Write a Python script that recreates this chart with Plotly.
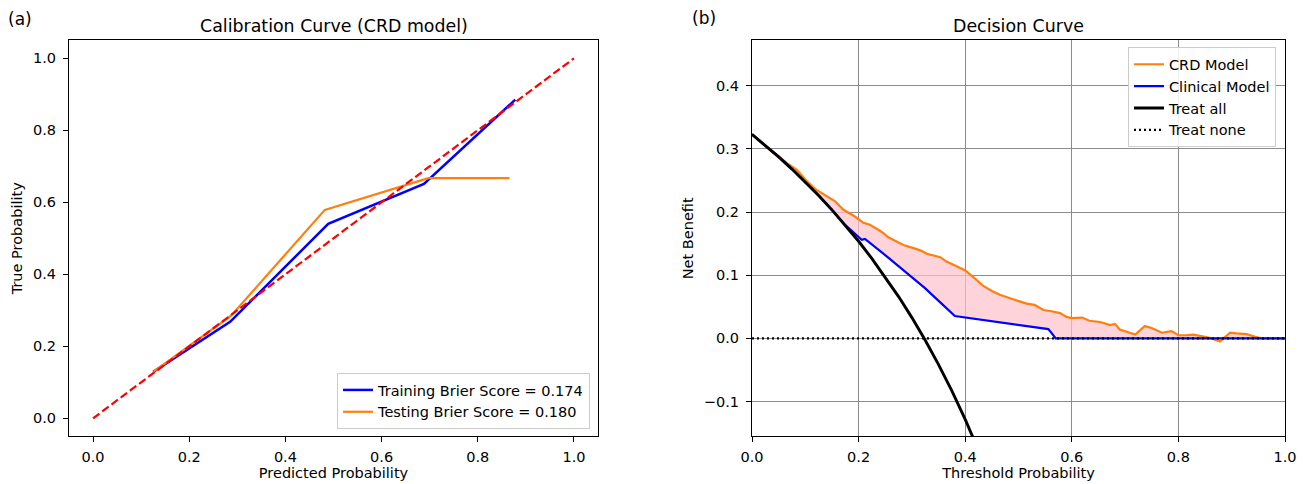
import numpy as np
import plotly.graph_objects as go

# ---------------- data: calibration curve (a) ----------------
train_pred = [0.125, 0.285, 0.489, 0.688, 0.878]
train_true = [0.129, 0.268, 0.540, 0.651, 0.885]
test_pred = [0.125, 0.287, 0.482, 0.697, 0.866]
test_true = [0.129, 0.285, 0.579, 0.667, 0.667]
diag = [0.0, 1.0]
train_label = "Training Brier Score = 0.174"
test_label = "Testing Brier Score = 0.180"

# ---------------- data: decision curve (b) ----------------
crd_t = [0.0, 0.02, 0.04, 0.065, 0.084, 0.103, 0.121, 0.140, 0.156, 0.171, 0.193, 0.209,
         0.221, 0.237, 0.2465, 0.2556, 0.265, 0.284, 0.303, 0.318, 0.328, 0.353, 0.365,
         0.384, 0.3994, 0.418, 0.434, 0.450, 0.465, 0.484, 0.50, 0.515, 0.530, 0.547,
         0.562, 0.578, 0.590, 0.600, 0.619, 0.633, 0.653, 0.672, 0.681, 0.690, 0.719,
         0.737, 0.751, 0.769, 0.787, 0.800, 0.814, 0.828, 0.850, 0.862, 0.878, 0.897,
         0.909, 0.928, 0.944, 0.956, 1.0]
crd_nb = [0.323, 0.309, 0.295, 0.278, 0.267, 0.249, 0.235, 0.225, 0.217, 0.204, 0.193, 0.183,
          0.180, 0.172, 0.1667, 0.160, 0.156, 0.148, 0.143, 0.1386, 0.134, 0.1286, 0.1217,
          0.1148, 0.108, 0.095, 0.083, 0.075, 0.069, 0.0635, 0.059, 0.055, 0.053, 0.045,
          0.043, 0.040, 0.034, 0.032, 0.033, 0.028, 0.026, 0.021, 0.023, 0.014, 0.006,
          0.0195, 0.016, 0.009, 0.0116, 0.005, 0.005, 0.006, 0.0025, 0.0, -0.005, 0.009,
          0.008, 0.0068, 0.0025, 0.0, 0.0]

clin_t = [0.0, 0.025, 0.05, 0.075, 0.1, 0.125, 0.15, 0.175, 0.2057, 0.212, 0.2556, 0.2994,
          0.324, 0.3557, 0.368, 0.3806, 0.556, 0.570, 1.0]
clin_nb = [0.323, 0.3056, 0.2874, 0.2681, 0.2478, 0.2263, 0.2035, 0.1794, 0.156, 0.1576,
           0.128, 0.098, 0.080, 0.055, 0.045, 0.0354, 0.0148, 0.0, 0.0]

all_t = [0.0, 0.025, 0.05, 0.075, 0.1, 0.125, 0.15, 0.175, 0.2, 0.225, 0.25, 0.275, 0.3,
         0.325, 0.35, 0.375, 0.4, 0.425]
all_nb = [0.323, 0.3056, 0.2874, 0.2681, 0.2478, 0.2263, 0.2035, 0.1794, 0.1538, 0.1264,
          0.0973, 0.0662, 0.0329, -0.0030, -0.0415, -0.0832, -0.1283, -0.1774]

none_t = [0.0, 1.0]
none_nb = [0.0, 0.0]

# ---------------- geometry ----------------
W, H = 1306, 484
FONT = "DejaVu Sans"
ORANGE = "#ff7f0e"


def px_x(p):
    return p / W


def px_y(p):
    return 1 - p / H


fig = go.Figure()

# (a) traces
fig.add_trace(go.Scatter(x=train_pred, y=train_true, mode="lines", name=train_label,
                         line=dict(color="blue", width=2.5), xaxis="x", yaxis="y",
                         legend="legend"))
fig.add_trace(go.Scatter(x=test_pred, y=test_true, mode="lines", name=test_label,
                         line=dict(color=ORANGE, width=2.2), xaxis="x", yaxis="y",
                         legend="legend"))
fig.add_trace(go.Scatter(x=diag, y=diag, mode="lines", showlegend=False,
                         line=dict(color="red", width=2.2, dash="8px,3.5px"),
                         xaxis="x", yaxis="y"))

# (b) fill between CRD and clinical model (where CRD is above)
crd_t_arr = np.array(crd_t)
crd_nb_arr = np.array(crd_nb)
clin_on_crd = np.interp(crd_t_arr, clin_t, clin_nb)
upper = np.maximum(crd_nb_arr, clin_on_crd)
poly_x = list(crd_t_arr) + list(crd_t_arr[::-1])
poly_y = list(upper) + list(clin_on_crd[::-1])
fig.add_trace(go.Scatter(x=poly_x, y=poly_y, mode="lines", fill="toself",
                         fillcolor="rgba(255,192,203,0.7)", line=dict(width=0),
                         showlegend=False, hoverinfo="skip", xaxis="x2", yaxis="y2"))

fig.add_trace(go.Scatter(x=crd_t, y=crd_nb, mode="lines", name="CRD Model",
                         line=dict(color=ORANGE, width=2.2), xaxis="x2", yaxis="y2",
                         legend="legend2"))
fig.add_trace(go.Scatter(x=clin_t, y=clin_nb, mode="lines", name="Clinical Model",
                         line=dict(color="blue", width=2.2), xaxis="x2", yaxis="y2",
                         legend="legend2"))
fig.add_trace(go.Scatter(x=all_t, y=all_nb, mode="lines", name="Treat all",
                         line=dict(color="black", width=2.9), xaxis="x2", yaxis="y2",
                         legend="legend2"))
fig.add_trace(go.Scatter(x=none_t, y=none_nb, mode="lines", name="Treat none",
                         line=dict(color="black", width=2.2, dash="2px,3px"),
                         xaxis="x2", yaxis="y2", legend="legend2"))

axis_common = dict(showline=True, mirror=True, linecolor="black", linewidth=1.2,
                   ticks="outside", ticklen=5, tickwidth=1.1, tickcolor="black",
                   tickfont=dict(family=FONT, size=14.5, color="black"),
                   zeroline=False, tickformat=".1f", automargin=False)

ydom = [px_y(436.3), px_y(40.3)]

fig.update_layout(
    width=W, height=H,
    margin=dict(l=0, r=0, t=0, b=0, pad=0, autoexpand=False),
    paper_bgcolor="white", plot_bgcolor="white",
    font=dict(family=FONT, size=14.5, color="black"),
    xaxis=dict(domain=[px_x(69), px_x(598)], range=[-0.05, 1.05], tickvals=[0, 0.2, 0.4, 0.6, 0.8, 1.0],
               showgrid=False, ticklabelstandoff=2,
               title=dict(text="Predicted Probability", font=dict(family=FONT, size=14.5), standoff=4),
               anchor="y", **axis_common),
    yaxis=dict(domain=ydom, range=[-0.05, 1.05], tickvals=[0, 0.2, 0.4, 0.6, 0.8, 1.0],
               showgrid=False, ticklabelstandoff=4,
               title=dict(text="True Probability", font=dict(family=FONT, size=14.5), standoff=6),
               anchor="x", **axis_common),
    xaxis2=dict(domain=[px_x(752), px_x(1285)], range=[0, 1], tickvals=[0, 0.2, 0.4, 0.6, 0.8, 1.0],
                showgrid=True, gridcolor="#8c8c8c", gridwidth=1, ticklabelstandoff=2,
                title=dict(text="Threshold Probability", font=dict(family=FONT, size=14.5), standoff=4),
                anchor="y2", **axis_common),
    yaxis2=dict(domain=ydom, range=[-0.155, 0.472], tickvals=[-0.1, 0, 0.1, 0.2, 0.3, 0.4],
                showgrid=True, gridcolor="#8c8c8c", gridwidth=1, ticklabelstandoff=4,
                title=dict(text="Net Benefit", font=dict(family=FONT, size=14.5), standoff=6),
                anchor="x2", **axis_common),
    legend=dict(x=px_x(590), y=px_y(429), xanchor="right", yanchor="bottom",
                bgcolor="rgba(255,255,255,0.85)", bordercolor="#cccccc", borderwidth=1,
                font=dict(family=FONT, size=14.5, color="black"), tracegroupgap=0),
    legend2=dict(x=px_x(1276), y=px_y(47.3), xanchor="right", yanchor="top",
                 bgcolor="rgba(255,255,255,0.85)", bordercolor="#cccccc", borderwidth=1,
                 font=dict(family=FONT, size=14.5, color="black"), tracegroupgap=0),
    annotations=[
        dict(text="(a)", x=px_x(20), y=px_y(19), xref="paper", yref="paper",
             xanchor="center", yanchor="middle",
             showarrow=False, font=dict(family=FONT, size=17, color="black")),
        dict(text="(b)", x=px_x(704), y=px_y(18), xref="paper", yref="paper",
             xanchor="center", yanchor="middle",
             showarrow=False, font=dict(family=FONT, size=17, color="black")),
        dict(text="Calibration Curve (CRD model)", x=px_x(333.5), y=px_y(26), xref="paper",
             yref="paper", xanchor="center", yanchor="middle",
             showarrow=False, font=dict(family=FONT, size=17.4, color="black")),
        dict(text="Decision Curve", x=px_x(1018.5), y=px_y(26), xref="paper",
             yref="paper", xanchor="center", yanchor="middle",
             showarrow=False, font=dict(family=FONT, size=17.4, color="black")),
    ],
)

fig.write_html("out.html", config={"displayModeBar": False},
               post_script="document.body.style.margin='0';document.body.style.padding='0';"
                           "document.documentElement.style.overflow='hidden';")
